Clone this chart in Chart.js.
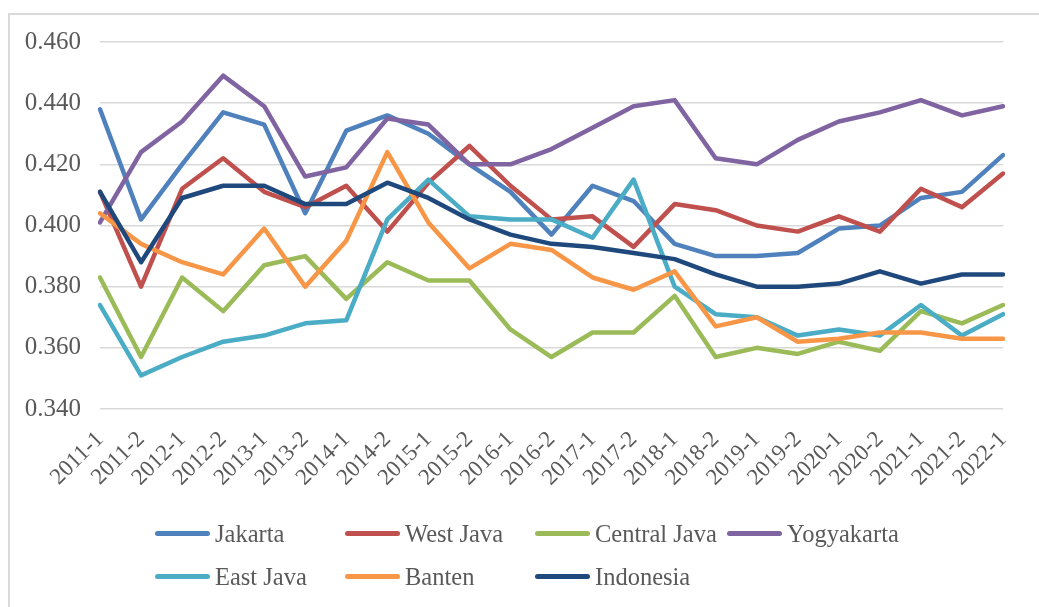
<!DOCTYPE html>
<html>
<head>
<meta charset="utf-8">
<script src="https://cdn.jsdelivr.net/npm/chart.js@4.4.0/dist/chart.umd.min.js"></script>
<style>
  body { margin: 0; background: #fff; width: 1039px; height: 607px; overflow: hidden; position: relative; }
  #frame { position: absolute; left: 8px; top: 13px; width: 1100px; height: 700px; border-left: 2px solid #d9d9d9; border-top: 2px solid #d9d9d9; }
  #wrap { position: absolute; left: 0; top: 0; width: 1039px; height: 515px; }
  #legend { position: absolute; left: 155px; top: 512px; display: grid; grid-template-columns: 190px 190px 192px auto; grid-auto-rows: 43px;
            font-family: "Liberation Serif", "Times New Roman", serif; font-size: 24.5px; color: #595959; }
  #legend .item { display: flex; align-items: center; white-space: nowrap; }
  #legend .swatch { display: inline-block; width: 55px; height: 5px; border-radius: 3px; margin-right: 5px; }
</style>
</head>
<body>
<div id="frame"></div>
<div id="wrap"><canvas id="myChart"></canvas></div>
<div id="legend"></div>
<script>
const categories = ["2011-1", "2011-2", "2012-1", "2012-2", "2013-1", "2013-2", "2014-1", "2014-2",
  "2015-1", "2015-2", "2016-1", "2016-2", "2017-1", "2017-2", "2018-1", "2018-2",
  "2019-1", "2019-2", "2020-1", "2020-2", "2021-1", "2021-2", "2022-1"];

const jakarta     = [0.438, 0.402, 0.420, 0.437, 0.433, 0.404, 0.431, 0.436, 0.430, 0.420, 0.411, 0.397, 0.413, 0.408, 0.394, 0.390, 0.390, 0.391, 0.399, 0.400, 0.409, 0.411, 0.423];
const westJava    = [0.411, 0.380, 0.412, 0.422, 0.411, 0.406, 0.413, 0.398, 0.414, 0.426, 0.413, 0.402, 0.403, 0.393, 0.407, 0.405, 0.400, 0.398, 0.403, 0.398, 0.412, 0.406, 0.417];
const centralJava = [0.383, 0.357, 0.383, 0.372, 0.387, 0.390, 0.376, 0.388, 0.382, 0.382, 0.366, 0.357, 0.365, 0.365, 0.377, 0.357, 0.360, 0.358, 0.362, 0.359, 0.372, 0.368, 0.374];
const yogyakarta  = [0.401, 0.424, 0.434, 0.449, 0.439, 0.416, 0.419, 0.435, 0.433, 0.420, 0.420, 0.425, 0.432, 0.439, 0.441, 0.422, 0.420, 0.428, 0.434, 0.437, 0.441, 0.436, 0.439];
const eastJava    = [0.374, 0.351, 0.357, 0.362, 0.364, 0.368, 0.369, 0.402, 0.415, 0.403, 0.402, 0.402, 0.396, 0.415, 0.380, 0.371, 0.370, 0.364, 0.366, 0.364, 0.374, 0.364, 0.371];
const banten      = [0.404, 0.394, 0.388, 0.384, 0.399, 0.380, 0.395, 0.424, 0.401, 0.386, 0.394, 0.392, 0.383, 0.379, 0.385, 0.367, 0.370, 0.362, 0.363, 0.365, 0.365, 0.363, 0.363];
const indonesia   = [0.411, 0.388, 0.409, 0.413, 0.413, 0.407, 0.407, 0.414, 0.409, 0.402, 0.397, 0.394, 0.393, 0.391, 0.389, 0.384, 0.380, 0.380, 0.381, 0.385, 0.381, 0.384, 0.384];

const seriesNames  = ["Jakarta", "West Java", "Central Java", "Yogyakarta", "East Java", "Banten", "Indonesia"];
const seriesValues = [jakarta, westJava, centralJava, yogyakarta, eastJava, banten, indonesia];
const seriesColors = ["#4F81BD", "#C0504D", "#9BBB59", "#8064A2", "#4BACC6", "#F79646", "#1F497D"];

const yTicks = [0.34, 0.36, 0.38, 0.40, 0.42, 0.44, 0.46];

const fontFamily = "'Liberation Serif', 'Times New Roman', serif";

const datasets = seriesNames.map((name, i) => ({
  label: name,
  data: seriesValues[i],
  borderColor: seriesColors[i],
  backgroundColor: seriesColors[i],
  borderWidth: 4.5,
  pointRadius: 0,
  tension: 0,
  fill: false,
  borderJoinStyle: "round",
  borderCapStyle: "round",
  order: seriesNames.length - i   // later series drawn on top, like Excel
}));

const ctx = document.getElementById("myChart").getContext("2d");
const chart = new Chart(ctx, {
  type: "line",
  data: { labels: categories, datasets: datasets },
  options: {
    responsive: true,
    maintainAspectRatio: false,
    animation: false,
    layout: { padding: { top: 42, right: 36, left: 0, bottom: 0 } },
    plugins: { legend: { display: false }, tooltip: { enabled: false } },
    scales: {
      x: {
        grid: { display: false },
        border: { display: false },
        ticks: { font: { family: fontFamily, size: 23 }, color: "#595959", minRotation: 45, maxRotation: 45, autoSkip: false, padding: 9 },
        afterFit: s => { s.height = 106; }
      },
      y: {
        min: yTicks[0],
        max: yTicks[yTicks.length - 1],
        afterBuildTicks: s => { s.ticks = yTicks.map(v => ({ value: v })); },
        grid: { color: "#d9d9d9", lineWidth: 1.5, drawTicks: false },
        border: { display: false },
        ticks: { font: { family: fontFamily, size: 25 }, color: "#595959", padding: 19, callback: v => v.toFixed(3) },
        afterFit: s => { s.width = 100; }
      }
    }
  }
});

// legend laid out in a fixed grid, as in the original
const legend = document.getElementById("legend");
chart.data.datasets.forEach(ds => {
  const item = document.createElement("div");
  item.className = "item";
  const sw = document.createElement("span");
  sw.className = "swatch";
  sw.style.background = ds.borderColor;
  item.appendChild(sw);
  item.appendChild(document.createTextNode(ds.label));
  legend.appendChild(item);
});
</script>
</body>
</html>
